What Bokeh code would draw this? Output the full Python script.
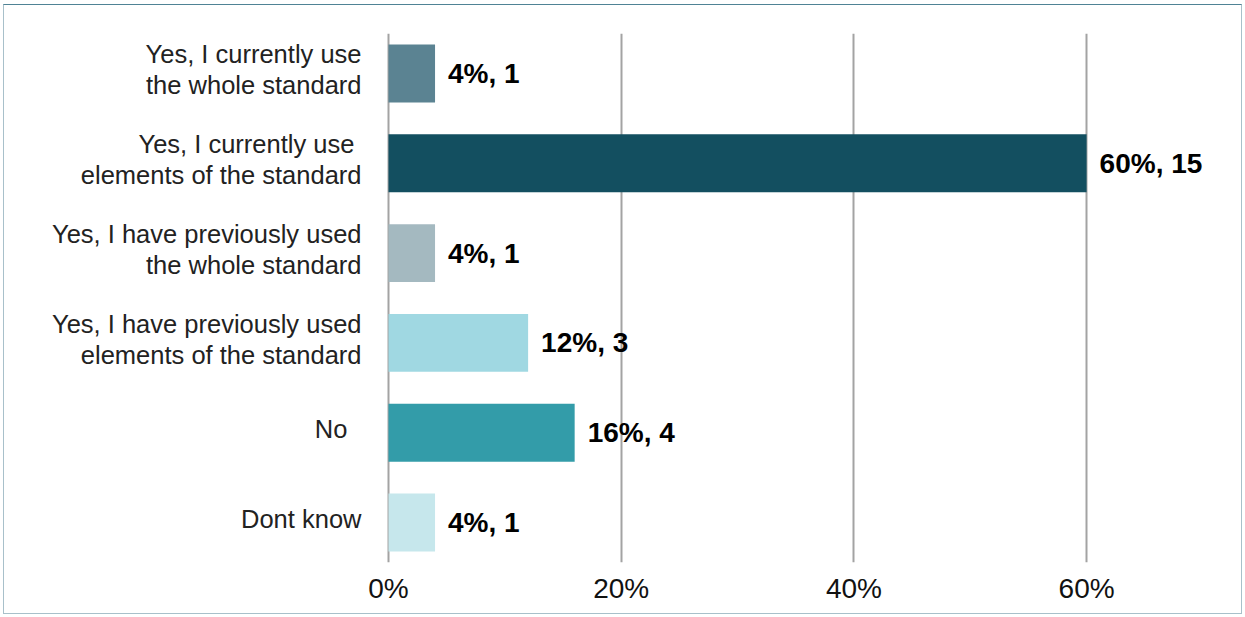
from bokeh.plotting import figure
from bokeh.models import ColumnDataSource, Range1d, FixedTicker
from bokeh.core.properties import value
from bokeh.embed import file_html
from bokeh.resources import INLINE

categories = [
    "Yes, I currently use\nthe whole standard",
    "Yes, I currently use\u00a0\nelements of the standard",
    "Yes, I have previously used\nthe whole standard",
    "Yes, I have previously used\nelements of the standard",
    "No\u00a0\u00a0",
    "Dont know",
]
percents = [4, 60, 4, 12, 16, 4]
counts = [1, 15, 1, 3, 4, 1]
colors = ["#5b8392", "#134f60", "#a4b9c0", "#a0d8e2", "#339ca9", "#c6e7ec"]
x_ticks = [0, 20, 40, 60]
x_tick_labels = ["0%", "20%", "40%", "60%"]

ys = list(range(len(categories)))

# canvas 1239 wide; frame from canvas x=0 to 1232; zero at canvas x=384; 20% = 232.7 px
px_per_unit = 232.7 / 20
x_start = -384 / px_per_unit
x_end = (1232 - 384) / px_per_unit

p = figure(width=1239, height=610, output_backend="svg", toolbar_location=None,
           x_range=Range1d(x_start, x_end), y_range=Range1d(5.445, -0.445),
           min_border_left=0, min_border_right=7, min_border_top=28, min_border_bottom=53)
p.styles = {"margin-left": "3px", "margin-top": "4px",
            "border-top": "1px solid #4f8395", "border-left": "1px solid #a8c0ca",
            "border-right": "1px solid #a8c0ca", "border-bottom": "1px solid #a8c0ca"}
p.outline_line_color = None
p.background_fill_color = "white"
p.border_fill_color = "white"

src = ColumnDataSource(dict(y=ys, x=percents, c=colors,
                            lab=[f"{a}%, {b}" for a, b in zip(percents, counts)]))
p.hbar(y="y", right="x", left=0, height=0.645, fill_color="c", line_color=None, source=src)

p.text(x="x", y="y", text="lab", source=src, x_offset=13, y_offset=0,
       text_align="left", text_baseline="middle",
       text_font=value("Liberation Sans"), text_font_style="bold",
       text_font_size="28px", text_color="#000000")

# category labels (split into lines)
lx, ly, lt, lo = [], [], [], []
for i, cat in enumerate(categories):
    lines = cat.split("\n")
    offs = [-4] if len(lines) == 1 else [-19, 12]
    for ln, o in zip(lines, offs):
        lx.append(0); ly.append(i); lt.append(ln); lo.append(o)
csrc = ColumnDataSource(dict(x=lx, y=ly, t=lt, o=lo))
p.text(x="x", y="y", text="t", y_offset="o", source=csrc, x_offset=-27,
       text_align="right", text_baseline="middle",
       text_font=value("Liberation Sans"), text_font_size="25.5px",
       text_color="#222222")

p.yaxis.visible = False
p.ygrid.visible = False
p.xaxis.ticker = FixedTicker(ticks=x_ticks)
p.xaxis.major_label_overrides = {t: l for t, l in zip(x_ticks, x_tick_labels)}
p.xaxis.axis_line_color = None
p.xaxis.major_tick_line_color = None
p.xaxis.minor_tick_line_color = None
p.xaxis.major_label_standoff = 4
p.xaxis.major_label_text_font = "Liberation Sans"
p.xaxis.major_label_text_font_size = "28px"
p.xaxis.major_label_text_color = "#111111"
p.xgrid.ticker = FixedTicker(ticks=x_ticks)
p.xgrid.grid_line_color = "#a3a3a3"
p.xgrid.grid_line_width = 2

open("out.html", "w").write(file_html(p, INLINE))
